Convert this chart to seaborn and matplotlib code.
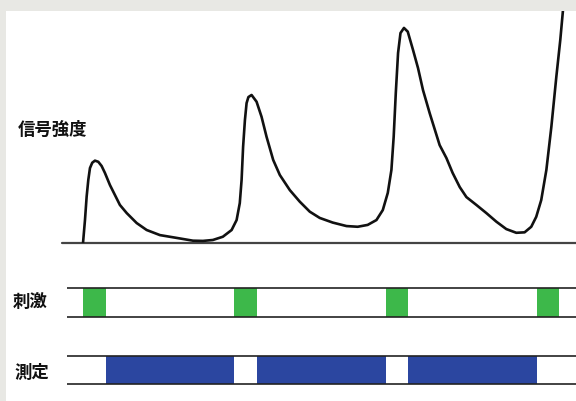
import numpy as np
import pandas as pd
import matplotlib
matplotlib.use("Agg")
import matplotlib.pyplot as plt
from matplotlib.patches import Rectangle
import seaborn as sns

# signal trace (time in s, signal in arbitrary units)
time_s = [1.39, 1.52, 1.63, 1.74, 1.85, 2.00, 2.18, 2.40, 2.62, 2.84,
          3.17, 3.50, 3.83, 4.28, 4.94, 5.60, 6.48, 7.58, 8.66, 9.32,
          9.98, 10.64, 11.22, 11.55, 11.76, 11.88, 11.98, 12.10, 12.21, 12.33,
          12.54, 12.87, 13.20, 13.53, 13.97, 14.41, 15.07, 15.73, 16.39, 17.05,
          17.91, 18.82, 19.56, 20.22, 20.80, 21.22, 21.55, 21.79, 21.94, 22.08,
          22.23, 22.39, 22.62, 22.87, 23.22, 23.55, 23.88, 24.32, 24.98, 25.43,
          25.84, 26.31, 26.75, 27.41, 28.07, 28.73, 29.39, 30.05, 30.60, 31.04,
          31.37, 31.70, 32.04, 32.37, 32.70, 32.96, 33.13, 33.25]
signal = [0.0, 9.9, 20.0, 27.2, 32.3, 34.6, 35.5, 35.0, 33.2, 30.2,
          25.0, 20.7, 16.4, 12.9, 8.6, 5.6, 3.4, 2.2, 1.0, 0.9,
          1.3, 2.7, 5.6, 9.9, 17.2, 27.2, 41.5, 53.0, 60.3, 62.9,
          63.8, 60.9, 54.4, 45.8, 35.8, 29.3, 22.8, 17.8, 13.5, 10.8,
          8.8, 7.3, 7.0, 7.8, 9.9, 14.2, 21.6, 31.5, 45.8, 64.7,
          81.9, 90.5, 92.7, 91.1, 83.2, 75.4, 65.9, 56.0, 42.2, 36.6,
          30.2, 24.1, 19.8, 16.4, 12.9, 9.2, 6.0, 4.4, 4.6, 7.0,
          11.3, 18.5, 31.5, 50.1, 71.7, 87.5, 99.7, 111.2]

# stimulus and measurement windows (start, end) in s
stim_start = [1.4, 11.4, 21.4, 31.4]
stim_end = [2.9, 12.9, 22.9, 32.9]
meas_start = [2.9, 12.9, 22.9]
meas_end = [11.4, 21.4, 31.4]

labels = {"signal": "信号強度", "stim": "刺激", "meas": "測定"}

t_max = 34.0
line_start = 0.3

sns.set_theme(style="white")
plt.rcParams['font.family'] = ['Noto Sans CJK JP', 'DejaVu Sans']

fig = plt.figure(figsize=(5.76, 4.01), dpi=100)
fig.patch.set_facecolor("#e8e8e4")
fig.patches.append(Rectangle((6 / 576, 0), 1, 1 - 11 / 401, transform=fig.transFigure,
                             facecolor="white", edgecolor="none", zorder=-5))

left = 62 / 576
width = 1 - left
ax_sig = fig.add_axes([left, 1 - 243 / 401, width, (243 - 11) / 401])
ax_stim = fig.add_axes([left, 1 - 317 / 401, width, (317 - 288) / 401])
ax_meas = fig.add_axes([left, 1 - 384 / 401, width, (384 - 356) / 401])

df = pd.DataFrame({"time": time_s, "signal": signal})
sns.lineplot(data=df, x="time", y="signal", ax=ax_sig, color="#111111",
             linewidth=1.9, sort=False, solid_joinstyle="round", solid_capstyle="round")
ax_sig.axhline(0, color="#444444", linewidth=1.6, zorder=1, clip_on=False)
ax_sig.set_xlim(0, t_max)
ax_sig.set_ylim(0, 100)

def draw_track(ax, starts, ends, color):
    spans = [(s, e - s) for s, e in zip(starts, ends)]
    ax.broken_barh(spans, (0, 1), facecolors=color, edgecolor="none")
    ax.hlines([0, 1], line_start, t_max, color="#222222", linewidth=1.2, clip_on=False)
    ax.set_xlim(0, t_max)
    ax.set_ylim(0, 1)

draw_track(ax_stim, stim_start, stim_end, "#3db84a")
draw_track(ax_meas, meas_start, meas_end, "#2b46a0")

for ax in (ax_sig, ax_stim, ax_meas):
    ax.set_axis_off()
    ax.patch.set_alpha(0)

text_kw = dict(fontsize=12.5, fontweight="bold", color="#111111", va="center", ha="left")
fig.text(18 / 576, 1 - 130 / 401, labels["signal"], **text_kw)
fig.text(13 / 576, 1 - 302 / 401, labels["stim"], **text_kw)
fig.text(14 / 576, 1 - 373 / 401, labels["meas"], **text_kw)

fig.savefig("out.png", dpi=100, facecolor=fig.get_facecolor())
